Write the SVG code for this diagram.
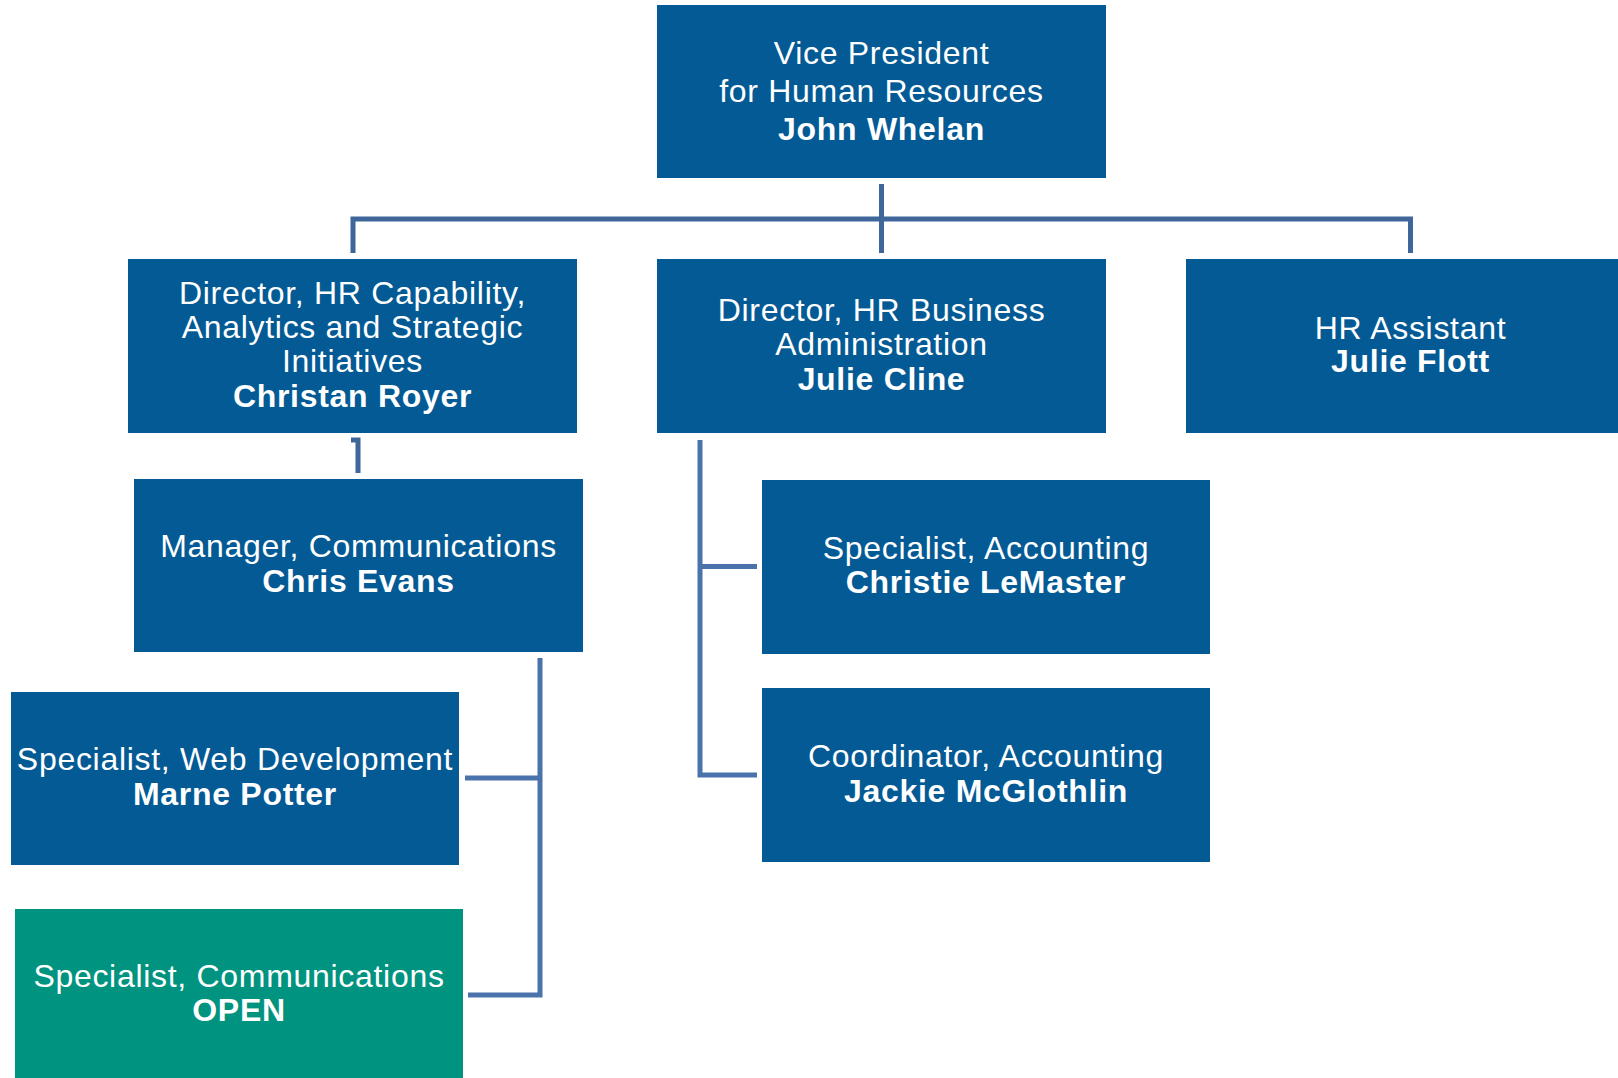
<svg xmlns="http://www.w3.org/2000/svg" width="1618" height="1078" viewBox="0 0 1618 1078">
<style>
.box{fill:#035a94}
.open{fill:#00937f}
text{font-family:"Liberation Sans",Arial,sans-serif;font-size:32px;letter-spacing:0.7px;fill:#ffffff;text-anchor:middle}
.b{font-weight:bold}
.c1{fill:none;stroke:#3f669b;stroke-width:5}
.c2{fill:none;stroke:#4a73ac;stroke-width:5}
</style>
<rect width="1618" height="1078" fill="#ffffff"/>
<g id="connectors">
<path class="c1" d="M881.5 184V253"/>
<path class="c1" d="M353 253V219H1410.5V253"/>
<path class="c1" d="M351 440H358V473"/>
<path class="c2" d="M540 658V995H468"/>
<path class="c2" d="M465 778H540"/>
<path class="c2" d="M700 440V775H757"/>
<path class="c2" d="M700 566.5H757"/>
</g>
<g id="vp">
<rect class="box" x="657" y="5" width="449" height="173"/>
<text x="881.5" y="63.5">Vice President</text>
<text x="881.5" y="101.5">for Human Resources</text>
<text class="b" x="881.5" y="140">John Whelan</text>
</g>
<g id="dir-capability">
<rect class="box" x="128" y="259" width="449" height="174"/>
<text x="352.5" y="303.5">Director, HR Capability,</text>
<text x="352.5" y="337.5">Analytics and Strategic</text>
<text x="352.5" y="372">Initiatives</text>
<text class="b" x="352.5" y="406.5">Christan Royer</text>
</g>
<g id="dir-business">
<rect class="box" x="657" y="259" width="449" height="174"/>
<text x="881.5" y="321">Director, HR Business</text>
<text x="881.5" y="355">Administration</text>
<text class="b" x="881.5" y="390">Julie Cline</text>
</g>
<g id="hr-assistant">
<rect class="box" x="1186" y="259" width="449" height="174"/>
<text x="1410.5" y="338.5">HR Assistant</text>
<text class="b" x="1410.5" y="372">Julie Flott</text>
</g>
<g id="mgr-comm">
<rect class="box" x="134" y="479" width="449" height="173"/>
<text x="358.5" y="557">Manager, Communications</text>
<text class="b" x="358.5" y="592">Chris Evans</text>
</g>
<g id="spec-web">
<rect class="box" x="11" y="692" width="448" height="173"/>
<text x="235" y="770">Specialist, Web Development</text>
<text class="b" x="235" y="805">Marne Potter</text>
</g>
<g id="spec-comm">
<rect class="open" x="15" y="909" width="448" height="173"/>
<text x="239" y="987">Specialist, Communications</text>
<text class="b" x="239" y="1021">OPEN</text>
</g>
<g id="spec-acct">
<rect class="box" x="762" y="480" width="448" height="174"/>
<text x="986" y="558.5">Specialist, Accounting</text>
<text class="b" x="986" y="593">Christie LeMaster</text>
</g>
<g id="coord-acct">
<rect class="box" x="762" y="688" width="448" height="174"/>
<text x="986" y="767">Coordinator, Accounting</text>
<text class="b" x="986" y="801.5">Jackie McGlothlin</text>
</g>
</svg>
